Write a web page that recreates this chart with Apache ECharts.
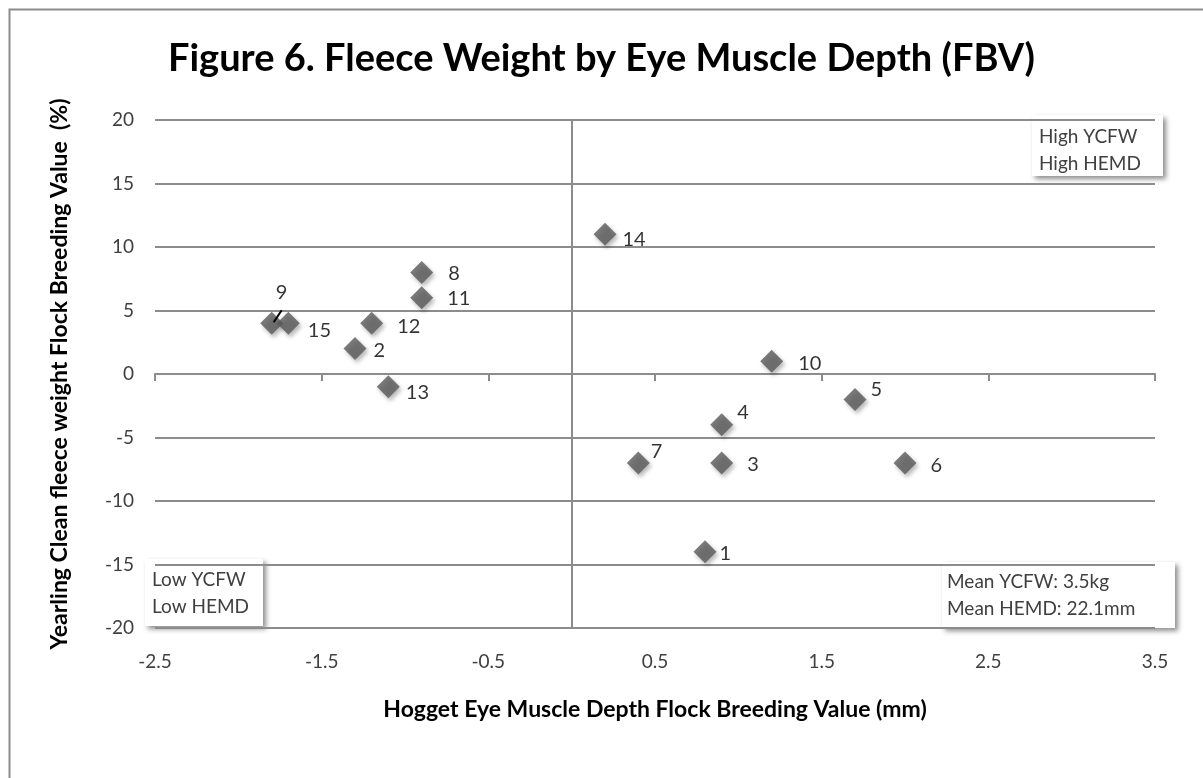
<!DOCTYPE html>
<html lang="en">
<head>
    <meta charset="UTF-8">
    <title>Figure 6. Fleece Weight by Eye Muscle Depth (FBV)</title>
    <script src="https://cdn.jsdelivr.net/npm/echarts@6/dist/echarts.min.js"></script>
    <style>
        html, body { margin: 0; padding: 0; background: #fff; }
    </style>
</head>
<body>
    <div id="chart" style="width: 1203px; height: 778px;"></div>

    <script>
        // flock ids and their breeding values
        var flocks = ['1', '2', '3', '4', '5', '6', '7', '8', '9', '10', '11', '12', '13', '14', '15'];
        var hemd = [0.8, -1.3, 0.9, 0.9, 1.7, 2.0, 0.4, -0.9, -1.8, 1.2, -0.9, -1.2, -1.1, 0.2, -1.7];
        var ycfw = [-14, 2, -7, -4, -2, -7, -7, 8, 4, 1, 6, 4, -1, 11, 4];

        var xTicks = [-2.5, -1.5, -0.5, 0.5, 1.5, 2.5, 3.5];
        var yTicks = [-20, -15, -10, -5, 0, 5, 10, 15, 20];

        var font = 'Lato, "Open Sans", sans-serif';
        var lineGrey = '#8c8c8c';

        // where each data label sits: [gap to the right of the marker, vertical shift]
        var labelSpots = {
            '1': [3, 2], '2': [7, 2], '3': [14, 2], '4': [4, -12], '5': [4, -10],
            '6': [14, 3], '7': [1, -11], '8': [15, 1], '10': [15, 2], '11': [14, 1],
            '12': [14, 3], '13': [6, 6], '14': [6, 5], '15': [8, 7]
        };

        var points = flocks.map(function (id, i) {
            var item = { name: id, value: [hemd[i], ycfw[i]] };
            if (id === '9') {
                item.label = { position: 'top', distance: 9, offset: [10, 0] };
            } else {
                item.label = { distance: labelSpots[id][0], offset: [0, labelSpots[id][1]] };
            }
            return item;
        });

        var chart = echarts.init(document.getElementById('chart'));

        function noteBox(x, y, w, h, tx, ty, lines) {
            return {
                type: 'group',
                left: x, top: y,
                z: 100,
                children: [{
                    type: 'rect',
                    shape: { x: 0, y: 0, width: w, height: h },
                    style: {
                        fill: '#fff',
                        shadowBlur: 5,
                        shadowOffsetX: 3,
                        shadowOffsetY: 3,
                        shadowColor: 'rgba(0,0,0,0.45)'
                    }
                }, {
                    type: 'text',
                    x: tx, y: ty,
                    style: {
                        text: lines.join('\n'),
                        font: '19px ' + font,
                        fill: '#404040',
                        lineHeight: 27
                    }
                }]
            };
        }

        chart.setOption({
            animation: false,
            title: {
                text: 'Figure 6. Fleece Weight by Eye Muscle Depth (FBV)',
                left: 'center',
                top: 35,
                textStyle: { fontFamily: font, fontSize: 38, fontWeight: 'bold', color: '#000' }
            },
            grid: { left: 155, right: 48, top: 120, bottom: 150 },
            xAxis: [{
                type: 'value',
                min: xTicks[0],
                max: xTicks[xTicks.length - 1],
                interval: 1,
                position: 'bottom',
                axisLine: { show: false },
                axisTick: { show: false },
                splitLine: { show: false },
                axisLabel: {
                    margin: 24,
                    fontFamily: font, fontSize: 19, color: '#404040',
                    formatter: function (v) { return v.toFixed(1); }
                },
                name: 'Hogget Eye Muscle Depth Flock Breeding Value (mm)',
                nameLocation: 'middle',
                nameGap: 70,
                nameTextStyle: { fontFamily: font, fontSize: 23, fontWeight: 'bold', color: '#000' }
            }, {
                type: 'value',
                min: xTicks[0],
                max: xTicks[xTicks.length - 1],
                interval: 1,
                position: 'bottom',
                axisLine: { show: true, onZero: true, lineStyle: { color: lineGrey, width: 2 } },
                axisTick: { show: true, length: 7, lineStyle: { color: lineGrey, width: 2 } },
                axisLabel: { show: false },
                splitLine: { show: false }
            }],
            yAxis: [{
                type: 'value',
                min: yTicks[0],
                max: yTicks[yTicks.length - 1],
                interval: 5,
                axisLine: { show: false },
                axisTick: { show: false },
                splitLine: { show: true, lineStyle: { color: lineGrey, width: 2 } },
                axisLabel: { margin: 21, fontFamily: font, fontSize: 19, color: '#404040' },
                name: 'Yearling Clean fleece weight Flock Breeding Value  (%)',
                nameLocation: 'middle',
                nameGap: 84,
                nameTextStyle: { fontFamily: font, fontSize: 23, fontWeight: 'bold', color: '#000' }
            }, {
                type: 'value',
                min: yTicks[0],
                max: yTicks[yTicks.length - 1],
                interval: 5,
                position: 'left',
                axisLine: { show: true, onZero: true, onZeroAxisIndex: 0, lineStyle: { color: lineGrey, width: 2 } },
                axisTick: { show: false },
                axisLabel: { show: false },
                splitLine: { show: false }
            }],
            series: [{
                type: 'scatter',
                xAxisIndex: 0,
                yAxisIndex: 0,
                symbol: 'diamond',
                symbolSize: 23,
                itemStyle: {
                    color: '#595959',
                    shadowBlur: 4,
                    shadowOffsetX: 2,
                    shadowOffsetY: 3,
                    shadowColor: 'rgba(0,0,0,0.35)'
                },
                label: {
                    show: true,
                    position: 'right',
                    formatter: '{b}',
                    fontFamily: font,
                    fontSize: 20,
                    color: '#000'
                },
                data: points,
                z: 5
            }],
            graphic: [
                {
                    type: 'rect',
                    left: 7, top: 7,
                    shape: { width: 1300, height: 900 },
                    style: { fill: 'none', stroke: lineGrey, lineWidth: 2 },
                    z: -1
                },
                noteBox(1032, 115, 131, 61, 7, 8, ['High YCFW', 'High HEMD']),
                noteBox(145, 559, 118, 67, 7, 7, ['Low YCFW', 'Low HEMD']),
                noteBox(942, 562, 233, 66, 5, 6, ['Mean YCFW: 3.5kg', 'Mean HEMD: 22.1mm'])
            ]
        });

        // short leader line from flock 9's marker up to its label
        var p9 = chart.convertToPixel({ seriesIndex: 0 }, [hemd[8], ycfw[8]]);
        chart.setOption({
            graphic: [{
                id: 'leader9',
                type: 'line',
                shape: { x1: p9[0] + 2, y1: p9[1] - 1, x2: p9[0] + 10, y2: p9[1] - 13 },
                style: { stroke: '#000', lineWidth: 2 },
                z: 10
            }]
        });
    </script>
</body>
</html>
